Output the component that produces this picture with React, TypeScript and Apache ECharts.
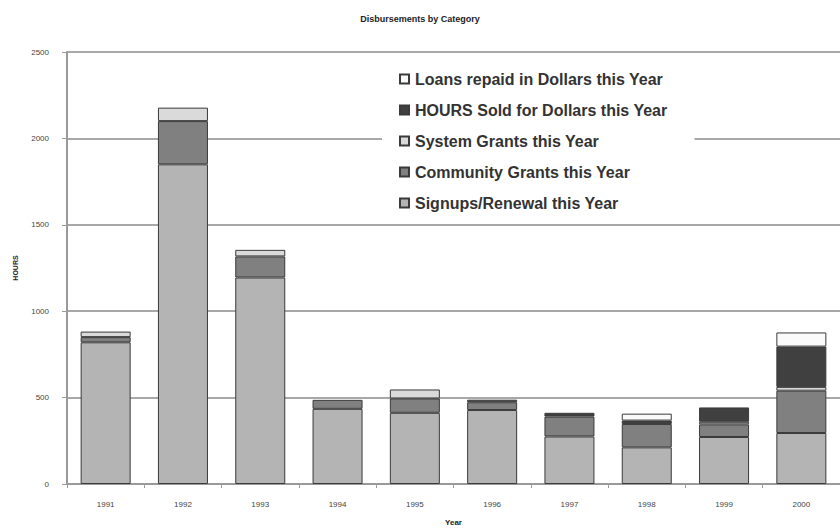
import React, { useEffect, useRef } from "react";
import * as echarts from "echarts";

const years = ["1991", "1992", "1993", "1994", "1995", "1996", "1997", "1998", "1999", "2000"];
const signups = [820, 1850, 1195, 435, 412, 428, 275, 212, 272, 295];
const community = [30, 250, 122, 52, 83, 45, 115, 135, 73, 245];
const systemGrants = [32, 78, 38, 0, 52, 0, 0, 0, 15, 22];
const hoursSold = [0, 0, 0, 0, 0, 15, 22, 20, 83, 233];
const loansRepaid = [0, 0, 0, 0, 0, 0, 0, 40, 0, 82];
const yTicks = { min: 0, max: 2500, interval: 500 };

const seriesDefs = [
  { name: "Signups/Renewal this Year", data: signups, color: "#b4b4b4" },
  { name: "Community Grants this Year", data: community, color: "#808080" },
  { name: "System Grants this Year", data: systemGrants, color: "#dadada" },
  { name: "HOURS Sold for Dollars this Year", data: hoursSold, color: "#404040" },
  { name: "Loans repaid in Dollars this Year", data: loansRepaid, color: "#fafafa" },
];

const FONT = "Liberation Sans, Arial, sans-serif";

export default function App() {
  const ref = useRef<HTMLDivElement>(null);
  useEffect(() => {
    document.body.style.margin = "0";
    if (!ref.current) return;
    const chart = echarts.init(ref.current, null, { renderer: "svg" });
    chart.setOption({
      animation: false,
      backgroundColor: "#ffffff",
      textStyle: { fontFamily: FONT },
      title: {
        text: "Disbursements by Category",
        left: "center",
        top: 9,
        textStyle: { fontSize: 9, fontWeight: "bold", color: "#222", fontFamily: FONT },
      },
      legend: {
        orient: "vertical",
        left: 382,
        top: 62,
        padding: [9, 27, 9, 17],
        backgroundColor: "#ffffff",
        itemGap: 15,
        itemWidth: 9,
        itemHeight: 9,
        icon: "rect",
        data: seriesDefs.map((s) => s.name).reverse(),
        textStyle: { fontSize: 16, fontWeight: "bold", color: "#333", fontFamily: FONT, padding: [0, 0, 0, 1] },
      },
      grid: { left: 67, right: -8, top: 52, bottom: 43 },
      xAxis: {
        type: "category",
        data: years,
        name: "Year",
        nameLocation: "middle",
        nameGap: 34,
        nameTextStyle: { fontSize: 8, fontWeight: "bold", color: "#222", fontFamily: FONT },
        axisLine: { lineStyle: { color: "#9a9a9a", width: 2 } },
        axisTick: { show: true, length: 4, lineStyle: { color: "#9a9a9a", width: 1 } },
        axisLabel: { fontSize: 8, color: "#444", margin: 16, fontFamily: FONT },
      },
      yAxis: {
        type: "value",
        min: yTicks.min,
        max: yTicks.max,
        interval: yTicks.interval,
        name: "HOURS",
        nameLocation: "middle",
        nameGap: 48,
        nameTextStyle: { fontSize: 7, fontWeight: "bold", color: "#222", fontFamily: FONT },
        axisLine: { show: true, lineStyle: { color: "#9a9a9a", width: 2 } },
        axisTick: { show: true, length: 5, lineStyle: { color: "#9a9a9a", width: 1 } },
        axisLabel: { fontSize: 8, color: "#444", margin: 18, fontFamily: FONT, formatter: (v: number) => String(v) },
        splitLine: { show: true, lineStyle: { color: "#a8a8a8", width: 2 } },
      },
      series: seriesDefs.map((s) => ({
        name: s.name,
        type: "bar",
        stack: "total",
        barWidth: 50,
        data: s.data.map((v) => (v === 0 ? null : v)),
        itemStyle: { color: s.color, borderColor: "#3a3a3a", borderWidth: 1 },
      })),
    });
    return () => chart.dispose();
  }, []);
  return <div ref={ref} style={{ width: 840, height: 531 }} />;
}
